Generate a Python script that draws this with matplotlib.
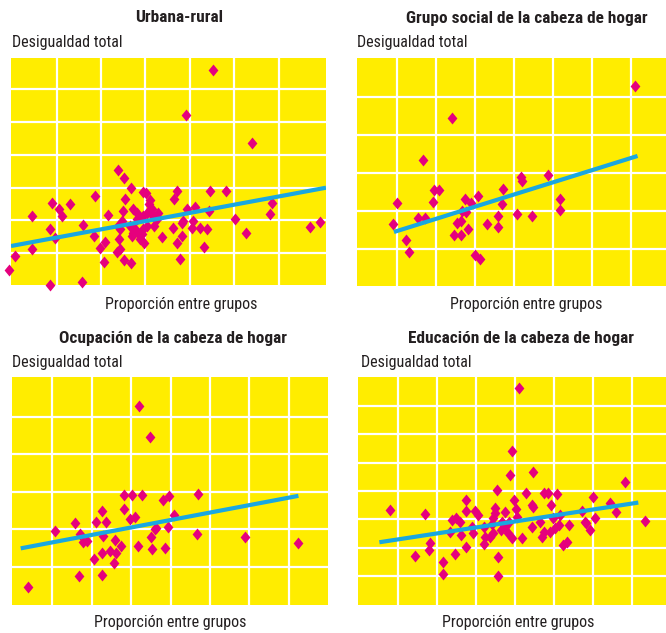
import matplotlib
matplotlib.use("Agg")
import matplotlib.pyplot as plt
from matplotlib import font_manager

# ---------------- data (arbitrary units) ----------------
titles = ["Urbana-rural", "Grupo social de la cabeza de hogar",
          "Ocupación de la cabeza de hogar", "Educación de la cabeza de hogar"]
ylabel_text = "Desigualdad total"
xlabel_text = "Proporción entre grupos"

ur_x = [45.3, 39.1, 54.0, 23.9, 25.2, 26.8, 29.5, 30.1, 37.1, 36.5, 44.6, 48.2, 18.6, 25.4,
        9.0, 13.0, 10.6, 11.2, 4.4, 21.5, 24.9, 27.1, 28.0, 30.7, 30.3, 29.5, 31.8, 32.6,
        39.3, 41.2, 44.4, 58.5, 58.0, 50.2, 38.4, 40.7, 38.2, 36.3, 40.5, 42.3, 43.8, 15.9,
        8.6, 9.6, 18.5, 24.3, 26.5, 27.3, 28.4, 29.5, 30.3, 31.9, 33.8, 38.2, 37.2, 43.2,
        52.7, 67.0, 69.4, 4.5, 0.5, -0.8, 8.6, 15.8, 19.8, 20.9, 24.1, 24.3, 23.7, 25.2,
        20.7, 26.8, 37.8, 29.7, 28.8, 26.9, 28.0, 31.1, 31.4, 27.7, 29.2, 24.7, 23.9, 32.9]
ur_y = [65.9, 52.3, 43.7, 35.4, 33.0, 30.0, 28.7, 28.5, 29.0, 26.6, 29.0, 29.0, 27.6, 26.7,
        25.2, 25.1, 23.6, 21.5, 21.5, 21.8, 23.0, 23.6, 22.4, 24.9, 22.4, 21.3, 21.3, 20.3,
        23.4, 24.1, 22.9, 25.4, 22.1, 20.5, 19.8, 19.8, 19.3, 17.8, 17.8, 17.8, 17.3, 18.5,
        17.3, 14.7, 15.4, 17.3, 18.3, 16.3, 16.3, 17.3, 18.3, 18.3, 14.9, 15.2, 13.2, 12.0,
        16.3, 17.9, 19.6, 11.4, 9.1, 4.9, 0.3, 1.2, 11.7, 13.5, 14.2, 11.4, 10.5, 7.8,
        7.4, 6.9, 8.1, 13.2, 14.2, 15.2, 20.3, 26.4, 23.4, 17.3, 15.8, 19.8, 18.3, 22.4]
ur_fit_x = [-0.3, 70.7]
ur_fit_y = [12.2, 30.0]

gs_x = [71.1, 24.1, 16.8, 41.8, 42.1, 48.9, 19.6, 20.9, 37.4, 10.2, 19.2, 27.5, 29.1, 30.8,
        36.9, 52.0, 51.9, 26.7, 27.7, 15.4, 17.3, 36.1, 40.8, 44.8, 9.1, 25.6, 26.5, 33.2,
        36.1, 28.4, 24.8, 26.4, 12.4, 13.2, 30.1, 31.5]
gs_y = [52.8, 44.3, 33.3, 28.9, 27.9, 29.4, 25.4, 25.4, 25.6, 22.1, 22.3, 23.2, 21.9, 23.8,
        21.7, 23.2, 20.1, 20.0, 19.6, 18.2, 18.2, 18.6, 19.0, 18.6, 16.6, 16.8, 17.3, 16.6,
        15.7, 15.1, 13.5, 13.7, 12.2, 9.1, 8.3, 7.4]
gs_fit_x = [9.3, 71.8]
gs_fit_y = [14.4, 34.4]

oc_x = [32.0, 34.7, 28.2, 30.3, 32.8, 38.1, 39.6, 46.96, 22.7, 28.2, 15.7, 21.1, 23.6, 29.7,
        31.0, 40.9, 10.8, 17.0, 22.9, 36.4, 39.4, 46.8, 58.8, 72.4, 17.7, 18.9, 25.9, 27.3,
        35.0, 31.8, 35.4, 38.7, 22.5, 24.6, 26.1, 20.5, 25.7, 16.9, 22.7, 3.9, 36.0]
oc_y = [52.9, 44.5, 29.2, 29.2, 29.2, 27.8, 28.9, 29.4, 24.8, 25.3, 21.6, 22.0, 22.0, 22.6,
        23.2, 23.8, 19.5, 18.7, 18.2, 20.2, 20.7, 18.7, 17.8, 16.4, 16.5, 16.9, 17.1, 15.5,
        17.8, 15.5, 14.6, 15.1, 13.7, 14.3, 13.6, 12.0, 11.1, 7.5, 7.8, 4.7, 20.0]
oc_fit_x = [2.0, 72.4]
oc_fit_y = [14.9, 28.9]

ed_x = [41.1, 39.2, 38.8, 44.6, 68.3, 35.4, 42.8, 47.4, 48.6, 50.8, 60.2, 27.5, 39.7, 44.4,
        44.8, 49.3, 64.4, 8.0, 17.0, 27.5, 29.8, 30.5, 34.9, 37.5, 40.3, 34.9, 57.2, 66.0,
        24.0, 24.9, 26.0, 34.5, 38.5, 40.5, 46.5, 49.9, 51.6, 58.0, 60.6, 73.4, 23.4, 26.2,
        29.0, 29.4, 32.0, 32.4, 34.1, 34.5, 36.5, 37.5, 38.4, 39.2, 41.8, 46.9, 47.4, 49.1,
        50.3, 51.4, 53.8, 58.2, 59.3, 18.3, 18.1, 27.5, 32.0, 52.5, 53.5, 14.4, 24.7, 35.6,
        21.5, 21.7, 35.6, 33.7, 36.7, 44.4]
ed_y = [76.5, 54.1, 45.6, 46.8, 43.1, 40.4, 39.2, 39.2, 39.2, 38.9, 37.8, 36.8, 36.8, 35.1,
        34.5, 35.1, 35.6, 33.3, 31.8, 33.1, 33.1, 31.5, 33.9, 32.7, 33.5, 32.1, 33.1, 32.5,
        29.8, 30.4, 29.2, 30.4, 29.2, 30.9, 29.2, 30.4, 31.5, 29.2, 30.4, 29.5, 25.6, 24.5,
        27.4, 25.1, 27.4, 23.9, 28.4, 25.1, 26.2, 27.4, 25.1, 23.3, 23.3, 23.9, 25.6, 25.6,
        26.8, 28.0, 28.0, 28.6, 26.2, 21.8, 19.2, 20.4, 21.3, 20.9, 22.1, 17.1, 17.6, 16.6,
        14.8, 10.7, 10.0, 23.9, 29.2, 27.4]
ed_fit_x = [5.3, 71.7]
ed_fit_y = [21.9, 35.9]

# ---------------- style ----------------
YELLOW = "#FFED00"
MAGENTA = "#E5007D"
BLUE = "#1AA7E0"
TEXT = "#231F20"

names = {f.name for f in font_manager.fontManager.ttflist}
stretch = "normal"
if "Liberation Sans Narrow" in names:
    fam = ["Liberation Sans Narrow", "DejaVu Sans"]
elif "Roboto Condensed" in names:
    fam = ["Roboto Condensed", "DejaVu Sans"]
else:
    fam = ["DejaVu Sans"]
    stretch = "condensed"

fig = plt.figure(figsize=(6.66, 6.33), dpi=100)
W, H = 666, 633

def fx(px):
    return px / W

def fy(py):
    return 1 - py / H

panels = [
    dict(box=(11, 58, 326, 285), xlim=(-0.3, 70.7), ylim=(0.3, 69.6),
         xt=range(10, 70, 10), yt=range(10, 70, 10),
         x=ur_x, y=ur_y, fx_=ur_fit_x, fy_=ur_fit_y,
         title=(179, 18), ylab=(12, 43), xlab=(181, 304)),
    dict(box=(356.7, 58.3, 666, 286), xlim=(-0.26, 79.1), ylim=(0.18, 60.1),
         xt=range(10, 80, 10), yt=range(10, 60, 10),
         x=gs_x, y=gs_y, fx_=gs_fit_x, fy_=gs_fit_y,
         title=(527, 18), ylab=(357, 43), xlab=(526, 304)),
    dict(box=(12.3, 377.3, 328, 605), xlim=(-0.13, 79.9), ylim=(-0.2, 60.5),
         xt=range(10, 80, 10), yt=range(10, 60, 10),
         x=oc_x, y=oc_y, fx_=oc_fit_x, fy_=oc_fit_y,
         title=(173, 338), ylab=(12, 362), xlab=(170, 622)),
    dict(box=(357.7, 377.3, 666, 605), xlim=(-0.26, 78.8), ylim=(-0.24, 80.1),
         xt=range(10, 80, 10), yt=range(10, 80, 10),
         x=ed_x, y=ed_y, fx_=ed_fit_x, fy_=ed_fit_y,
         title=(521, 338), ylab=(361, 362), xlab=(518, 623)),
]

diamond = [(0, 1), (0.82, 0), (0, -1), (-0.82, 0), (0, 1)]

for p, title in zip(panels, titles):
    l, t, r, b = p["box"]
    ax = fig.add_axes([fx(l), fy(b), (r - l) / W, (b - t) / H])
    ax.set_facecolor(YELLOW)
    ax.set_xlim(*p["xlim"])
    ax.set_ylim(*p["ylim"])
    ax.set_xticks(list(p["xt"]))
    ax.set_yticks(list(p["yt"]))
    ax.tick_params(length=0, labelbottom=False, labelleft=False)
    ax.grid(True, color="white", linewidth=1.6)
    ax.set_axisbelow(True)
    for s in ax.spines.values():
        s.set_visible(False)
    ax.plot(p["x"], p["y"], linestyle="none", marker=diamond, markersize=8.6,
            color=MAGENTA, markeredgewidth=0, clip_on=False, zorder=3)
    ax.plot(p["fx_"], p["fy_"], color=BLUE, linewidth=3.0,
            solid_capstyle="butt", zorder=4)

    fig.text(fx(p["title"][0]), fy(p["title"][1]), title, ha="center", va="center",
             fontsize=12.4, fontweight="bold", family=fam, stretch=stretch, color=TEXT)
    fig.text(fx(p["ylab"][0]), fy(p["ylab"][1]), ylabel_text, ha="left", va="center",
             fontsize=11.5, family=fam, stretch=stretch, color=TEXT)
    fig.text(fx(p["xlab"][0]), fy(p["xlab"][1]), xlabel_text, ha="center", va="center",
             fontsize=11.5, family=fam, stretch=stretch, color=TEXT)

fig.savefig("out.png", dpi=100, facecolor="white")
